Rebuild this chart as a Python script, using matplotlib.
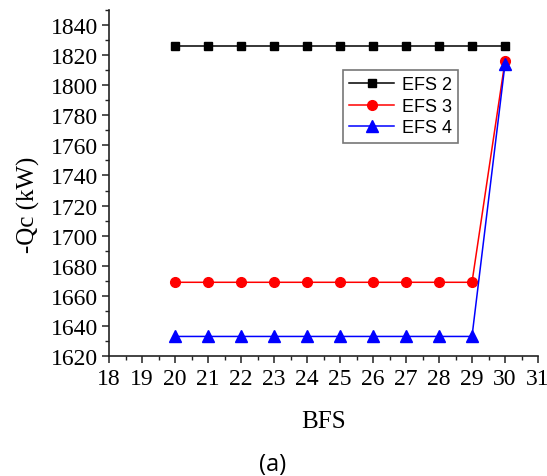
import matplotlib
matplotlib.use("Agg")
import matplotlib.pyplot as plt
from matplotlib.ticker import MultipleLocator
from matplotlib import font_manager

bfs = [20, 21, 22, 23, 24, 25, 26, 27, 28, 29, 30]
efs2 = [1826, 1826, 1826, 1826, 1826, 1826, 1826, 1826, 1826, 1826, 1826]
efs3 = [1669, 1669, 1669, 1669, 1669, 1669, 1669, 1669, 1669, 1669, 1816]
efs4 = [1633, 1633, 1633, 1633, 1633, 1633, 1633, 1633, 1633, 1633, 1814]
series_labels = ["EFS 2", "EFS 3", "EFS 4"]
x_ticks = list(range(18, 32))
y_ticks = list(range(1620, 1841, 20))

plt.rcParams["font.family"] = ["Liberation Serif"]
serif = font_manager.FontProperties(family="Liberation Serif", size=17)

W, H = 547, 477
fig = plt.figure(figsize=(W / 100, H / 100), dpi=100)
ax = fig.add_axes([109 / W, 1 - 357 / H, (538 - 109) / W, (357 - 11) / H])

ax.plot(bfs, efs2, color="black", marker="s", markersize=6, lw=1.1, label=series_labels[0])
ax.plot(bfs, efs3, color="red", marker="o", markersize=7, lw=1.1, label=series_labels[1])
ax.plot(bfs, efs4, color="blue", marker="^", markersize=8, lw=1.1, label=series_labels[2])

ax.set_xlim(18, 31)
ax.set_ylim(1620, 1850)
ax.set_xticks(x_ticks, labels=[str(v) for v in x_ticks], fontproperties=serif)
ax.set_yticks(y_ticks, labels=[str(v) for v in y_ticks], fontproperties=serif)
ax.xaxis.set_minor_locator(MultipleLocator(0.5))
ax.yaxis.set_minor_locator(MultipleLocator(10))

for s in ["top", "right"]:
    ax.spines[s].set_visible(False)
for s in ["left", "bottom"]:
    ax.spines[s].set_linewidth(1.2)
    ax.spines[s].set_color("#222222")

ax.tick_params(which="major", direction="out", length=5, width=1.1, color="#222222")
ax.tick_params(which="minor", direction="out", length=3, width=1.0, color="#222222")
ax.tick_params(axis="x", pad=4)
ax.tick_params(axis="y", pad=3)

ax.set_xlabel("BFS", fontsize=18, labelpad=15)
ax.set_ylabel("-Qc (kW)", fontsize=18, labelpad=10)
ax.yaxis.set_label_coords(-0.16, 0.44)

leg = ax.legend(loc="upper left", bbox_to_anchor=((343 - 109) / 429, 1 - (71 - 11) / 346),
                prop={"family": "Liberation Sans", "size": 13}, frameon=True, fancybox=False,
                edgecolor="#555555", handlelength=2.5, borderpad=0.35, labelspacing=0.25,
                handletextpad=0.4, borderaxespad=0)
leg.get_frame().set_linewidth(1.2)

fig.text(273 / W, 1 - 465 / H, "(a)", family="Open Sans", fontsize=17, ha="center", va="center")

fig.savefig("out.png", dpi=100)
